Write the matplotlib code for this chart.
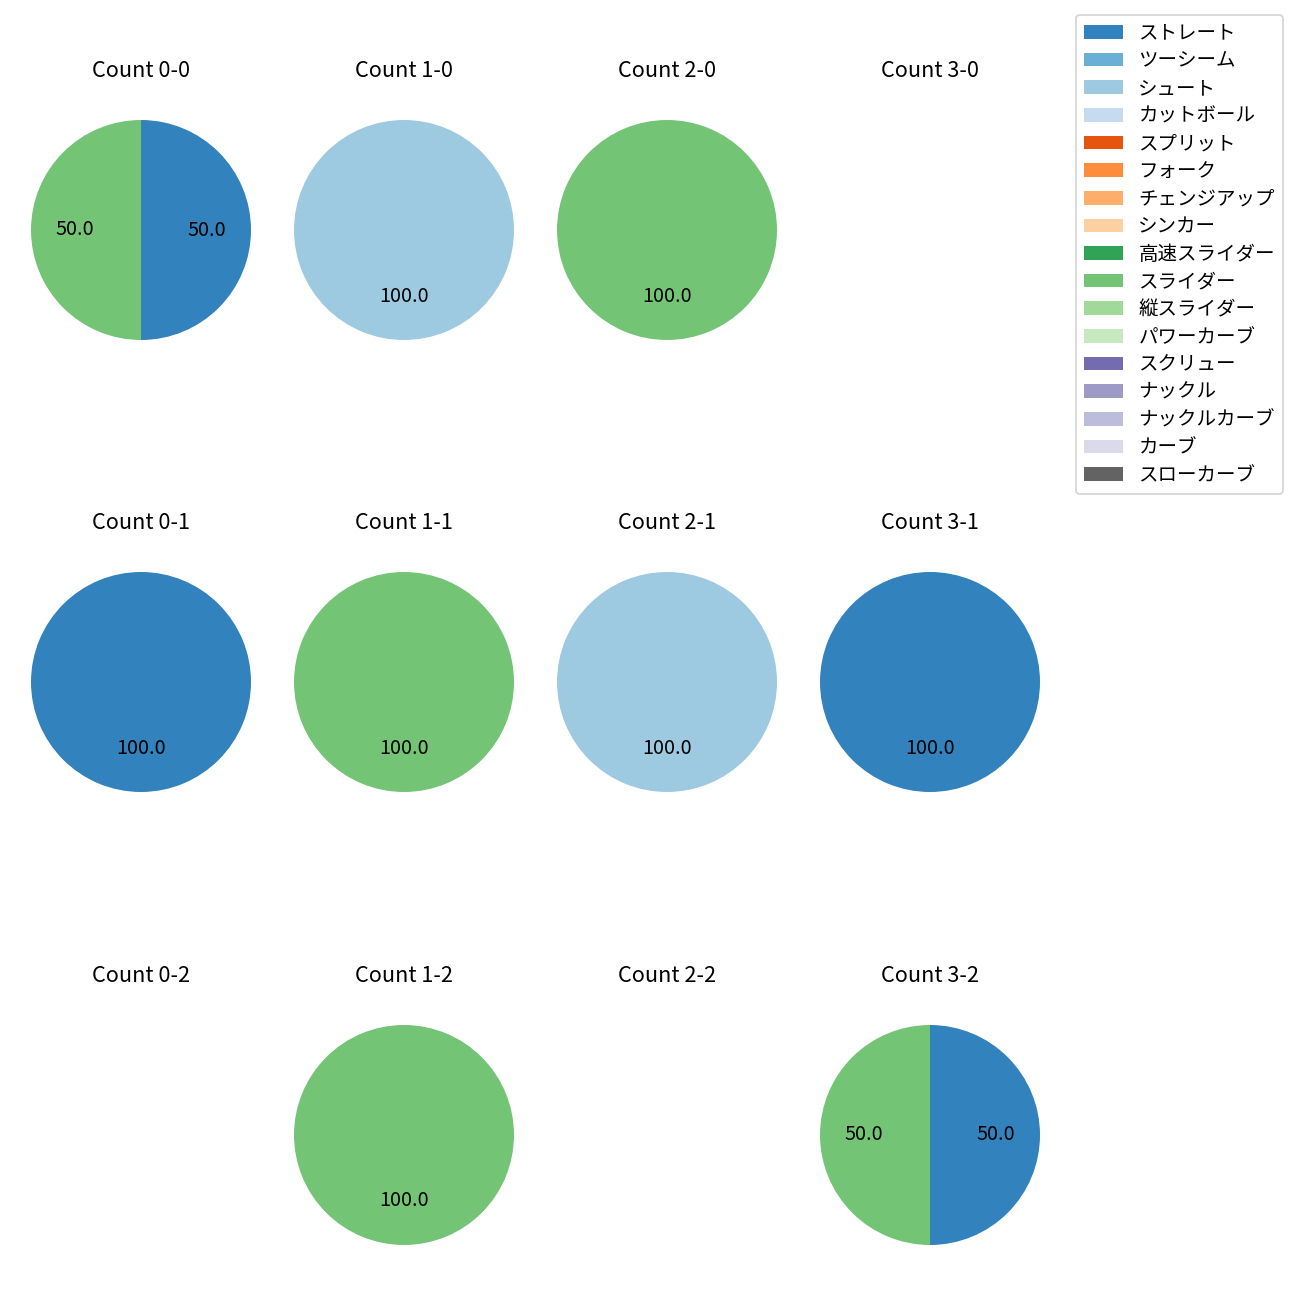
import numpy as np
import matplotlib.pyplot as plt
from matplotlib.patches import Patch

plt.rcParams['font.family'] = ['Noto Sans CJK JP', 'DejaVu Sans']

# 球種
pitch_types = ['ストレート', 'ツーシーム', 'シュート', 'カットボール', 'スプリット', 'フォーク',
               'チェンジアップ', 'シンカー', '高速スライダー', 'スライダー', '縦スライダー',
               'パワーカーブ', 'スクリュー', 'ナックル', 'ナックルカーブ', 'カーブ', 'スローカーブ']

# カウント (ボール-ストライク)
balls = [0, 1, 2, 3]
strikes = [0, 1, 2]
count_labels = [f'{b}-{s}' for s in strikes for b in balls]

# 各カウントの投球数 (count_labels の順)
straight = [1, 0, 0, 0, 1, 0, 0, 1, 0, 0, 0, 1]
shoot = [0, 1, 0, 0, 0, 0, 1, 0, 0, 0, 0, 0]
slider = [1, 0, 1, 0, 0, 1, 0, 0, 0, 1, 0, 1]

data = np.zeros((len(pitch_types), len(count_labels)))
data[pitch_types.index('ストレート')] = straight
data[pitch_types.index('シュート')] = shoot
data[pitch_types.index('スライダー')] = slider

colors = plt.get_cmap('tab20c').colors[:len(pitch_types)]

fig = plt.figure(figsize=(10, 10), dpi=130)
W = 1300
cx = [141, 404, 667, 930]
cy = [230, 682, 1135]
side = 275

for i, label in enumerate(count_labels):
    r, c = divmod(i, 4)
    ax = fig.add_axes([(cx[c] - side / 2) / W, 1 - (cy[r] + side / 2) / W, side / W, side / W])
    vals = data[:, i]
    mask = vals > 0
    if mask.any():
        ax.pie(vals[mask], colors=[colors[k] for k in np.where(mask)[0]],
               autopct='%.1f', startangle=90, counterclock=False,
               textprops={'fontsize': 11})
    ax.set_xlim(-1.25, 1.25)
    ax.set_ylim(-1.25, 1.25)
    ax.axis('off')
    ax.set_title(f'Count {label}', pad=8.5)

handles = [Patch(facecolor=colors[k], label=p) for k, p in enumerate(pitch_types)]
fig.legend(handles=handles, loc='upper left', bbox_to_anchor=(1076 / W, 1 - 15 / W),
           borderaxespad=0, fontsize=10.8, labelspacing=0.34)

fig.savefig('out.png')
